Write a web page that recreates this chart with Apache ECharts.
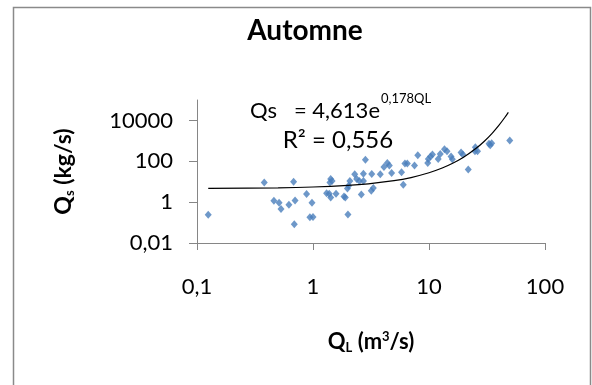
<!DOCTYPE html>
<html>
<head>
<meta charset="utf-8">
<script src="https://cdn.jsdelivr.net/npm/echarts@6/dist/echarts.min.js"></script>
<style>
  html, body { margin: 0; padding: 0; background: #fff; }
  #chart { width: 592px; height: 385px; }
</style>
</head>
<body>
<div id="chart"></div>
<script>
// débit liquide QL (m3/s) et débit solide Qs (kg/s), automne
var qlValues = [0.125, 0.38, 0.68, 0.46, 0.51, 0.53, 0.62, 0.70, 0.69, 0.88, 0.98, 0.94, 1.0,
  1.31, 1.38, 1.42, 1.58, 1.42, 1.46, 1.40, 1.85, 1.9, 2.0, 1.98, 2.03, 2.08, 2.29, 2.38, 2.51,
  2.61, 2.72, 2.83, 2.72, 3.21, 3.18, 3.31, 3.8, 4.09, 4.37, 4.55, 4.76, 5.8, 6.0, 6.2, 6.5,
  7.5, 8.0, 9.75, 9.87, 10.3, 10.7, 12.0, 12.5, 13.6, 14.3, 15.5, 15.9, 18.9, 19.6, 21.8,
  25.1, 26.2, 24.9, 32.9, 34.7, 33.7, 49.7];
var qsValues = [0.24, 9.2, 10, 1.16, 0.93, 0.46, 0.74, 1.2, 0.083, 2.5, 0.93, 0.18, 0.19,
  2.75, 2.57, 1.7, 2.57, 13.5, 10.8, 9.2, 1.9, 1.7, 0.25, 4.7, 6.3, 10.8, 23, 13.5, 10.8,
  2.4, 24.5, 120, 10.8, 24, 3.6, 4.9, 23, 53, 83, 62, 27, 29, 7.1, 77, 77,
  63, 195, 83, 131, 170, 214, 131, 230, 390, 310, 170, 126, 270, 214, 40,
  490, 310, 310, 716, 760, 615, 1050];

// courbe de tendance
var trendX = [0.125, 0.5, 1, 2, 3, 5, 7, 10, 13, 16, 20, 25, 30, 35, 40, 45, 48.3];
var trendY = [4.72, 5.04, 5.51, 6.59, 7.87, 11.2, 16.0, 27.4, 46.6, 79.6, 162, 395, 962, 2340, 5700, 13900, 25000];

var xTicks = [0.1, 1, 10, 100];
var yTicks = [0.01, 1, 100, 10000];

var scatterData = qlValues.map(function (v, i) { return [v, qsValues[i]]; });
var trendData = trendX.map(function (v, i) { return [v, trendY[i]]; });

function fmt(v) {
  return String(+(+v).toPrecision(6)).replace('.', ',');
}

var font = 'Lato';
var chart = echarts.init(document.getElementById('chart'));

chart.setOption({
  animation: false,
  backgroundColor: '#fff',
  grid: { left: 197, right: 47, top: 100, bottom: 142, outerBoundsMode: 'none' },
  xAxis: {
    type: 'log', logBase: 10, min: 0.1, max: 100,
    name: '{b|Q}{sub|L}{b| (m}{sup|3}{b|/s)}',
    nameLocation: 'middle', nameGap: 86,
    nameTextStyle: {
      rich: {
        b: { fontFamily: font, fontWeight: 'bold', fontSize: 22, color: '#000' },
        sub: { fontFamily: font, fontWeight: 'bold', fontSize: 13, color: '#000', padding: [12, 0, 0, 0] },
        sup: { fontFamily: font, fontWeight: 'bold', fontSize: 13, color: '#000', padding: [0, 0, 10, 0] }
      }
    },
    axisLine: { lineStyle: { color: '#868686', width: 1 } },
    axisTick: { show: true, length: 7, lineStyle: { color: '#868686' }, customValues: xTicks },
    axisLabel: { fontFamily: font, fontSize: 22, color: '#000', margin: 33, formatter: fmt, customValues: xTicks },
    splitLine: { show: false },
    minorTick: { show: false }
  },
  yAxis: {
    type: 'log', logBase: 10, min: 0.01, max: 100000,
    name: '{b|Q}{sub|s}{b| (kg/s)}',
    nameLocation: 'middle', nameGap: 121, nameRotate: 90,
    nameTextStyle: {
      rich: {
        b: { fontFamily: font, fontWeight: 'bold', fontSize: 23, color: '#000' },
        sub: { fontFamily: font, fontWeight: 'bold', fontSize: 13, color: '#000', padding: [12, 0, 0, 0] }
      }
    },
    axisLine: { show: true, lineStyle: { color: '#868686', width: 1 } },
    axisTick: { show: true, length: 8, lineStyle: { color: '#868686' }, customValues: yTicks },
    axisLabel: { fontFamily: font, fontSize: 22, color: '#000', margin: 24, formatter: fmt, customValues: yTicks },
    splitLine: { show: false },
    minorTick: { show: false }
  },
  series: [
    {
      type: 'scatter',
      data: scatterData,
      symbol: 'diamond',
      symbolSize: [7, 8],
      itemStyle: { color: '#4a7ebb' },
      z: 2
    },
    {
      type: 'line',
      data: trendData,
      smooth: 0.3,
      showSymbol: false,
      lineStyle: { color: '#000', width: 1.2 },
      z: 3
    }
  ],
  graphic: [
    {
      type: 'rect', silent: true,
      shape: { x: 13.5, y: 7.5, width: 577, height: 420 },
      style: { fill: 'none', stroke: '#8a8a8a', lineWidth: 1.5 }
    },
    {
      type: 'text', x: 305, y: 45,
      style: { text: 'Automne', font: 'bold 28px Lato', fill: '#000', textAlign: 'center', textVerticalAlign: 'bottom' }
    },
    {
      type: 'text', x: 380, y: 100,
      style: { text: 'Qs   = 4,613e', font: '22px Lato', fill: '#000', textAlign: 'right', textVerticalAlign: 'alphabetic' }
    },
    {
      type: 'text', x: 381, y: 92,
      style: { text: '0,178QL', font: '13px Lato', fill: '#000', textAlign: 'left', textVerticalAlign: 'alphabetic' }
    },
    {
      type: 'text', x: 338, y: 128,
      style: { text: 'R² = 0,556', font: '24px Lato', fill: '#000', textAlign: 'center', textVerticalAlign: 'alphabetic' }
    }
  ]
});
</script>
</body>
</html>
